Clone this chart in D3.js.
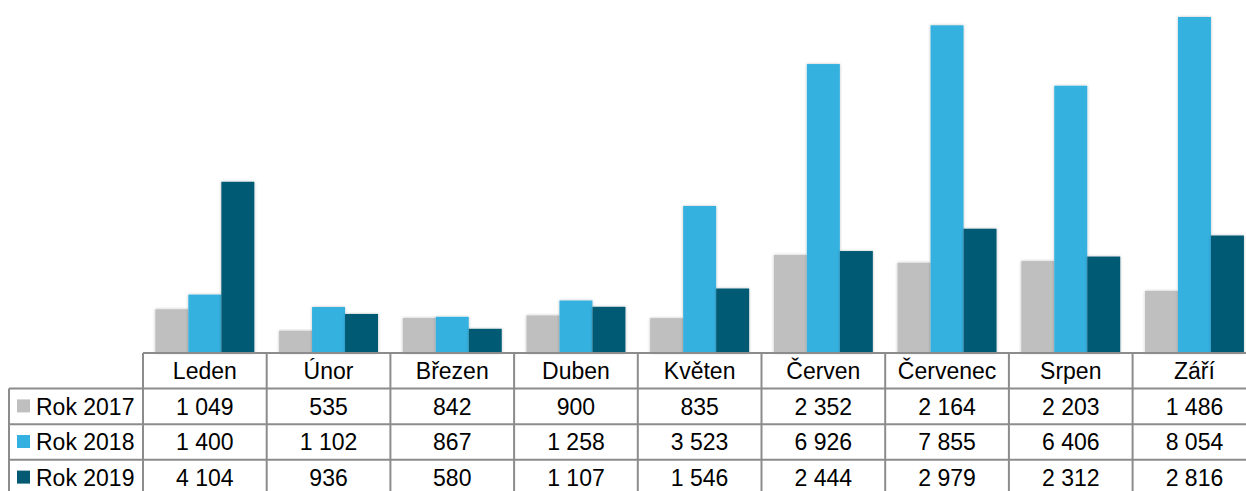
<!DOCTYPE html>
<html>
<head>
<meta charset="utf-8">
<script src="https://cdn.jsdelivr.net/npm/d3@7"></script>
<style>
  body { margin: 0; background: #fff; }
  svg text { font-family: "Liberation Sans", Arial, sans-serif; fill: #000; }
</style>
</head>
<body>
<div id="chart"></div>
<script>
var months = ["Leden", "Únor", "Březen", "Duben", "Květen", "Červen", "Červenec", "Srpen", "Září"],
	seriesNames = ["Rok 2017", "Rok 2018", "Rok 2019"],
	colors = ["#bfbfbf", "#34b1e0", "#045a73"],
	rok2017 = [1049, 535, 842, 900, 835, 2352, 2164, 2203, 1486],
	rok2018 = [1400, 1102, 867, 1258, 3523, 6926, 7855, 6406, 8054],
	rok2019 = [4104, 936, 580, 1107, 1546, 2444, 2979, 2312, 2816];

var values = [rok2017, rok2018, rok2019];
var fmt = function(v) { return d3.format(",")(v).replace(/,/g, " "); };

var W = 1246, H = 491,
	tableLeft = 143, colW = 123.7,
	legendLeft = 9,
	baseY = 353, rowH = 35.6,
	fontSize = 23,
	lineCol = "#8c8c8c";

var svg = d3.select("#chart").append("svg")
	.attr("width", W)
	.attr("height", H);

var defs = svg.append("defs");
var shadow = defs.append("filter").attr("id", "shadow")
	.attr("x", "-20%").attr("y", "-5%").attr("width", "140%").attr("height", "110%");
shadow.append("feDropShadow")
	.attr("dx", 0).attr("dy", 0)
	.attr("stdDeviation", 1.5)
	.attr("flood-color", "#000")
	.attr("flood-opacity", 0.25);

var x0 = d3.scaleBand()
	.domain(months)
	.range([tableLeft, tableLeft + colW * months.length])
	.paddingInner(0.2)
	.paddingOuter(0.1);

var x1 = d3.scaleBand()
	.domain(d3.range(seriesNames.length))
	.range([0, x0.bandwidth()]);

var y = d3.scaleLinear()
	.domain([0, 8054])
	.range([baseY, 17]);

// bars
var groups = svg.append("g").selectAll("g")
	.data(months)
	.join("g")
	.attr("transform", function(d) { return "translate(" + x0(d) + ",0)"; });

groups.selectAll("rect")
	.data(function(m, i) { return values.map(function(s, k) { return {k: k, v: s[i]}; }); })
	.join("rect")
	.attr("x", function(d) { return x1(d.k); })
	.attr("y", function(d) { return y(d.v); })
	.attr("width", x1.bandwidth())
	.attr("height", function(d) { return baseY - y(d.v); })
	.attr("fill", function(d) { return colors[d.k]; })
	.attr("filter", "url(#shadow)");

// table
var table = svg.append("g")
	.attr("stroke", lineCol)
	.attr("stroke-width", 2)
	.attr("fill", "none");

var colX = d3.range(months.length + 1).map(function(i) { return tableLeft + i * colW; });
var tableRight = colX[colX.length - 1];

// baseline / header top
table.append("line")
	.attr("x1", tableLeft).attr("x2", tableRight)
	.attr("y1", baseY).attr("y2", baseY);

// horizontal row lines
d3.range(1, 4).forEach(function(r) {
	table.append("line")
		.attr("x1", legendLeft).attr("x2", tableRight)
		.attr("y1", baseY + r * rowH).attr("y2", baseY + r * rowH);
});

// vertical lines
colX.forEach(function(cx) {
	table.append("line")
		.attr("x1", cx).attr("x2", cx)
		.attr("y1", baseY).attr("y2", H + 5);
});
table.append("line")
	.attr("x1", legendLeft).attr("x2", legendLeft)
	.attr("y1", baseY + rowH).attr("y2", H + 5);

// header labels
svg.append("g").selectAll("text")
	.data(months)
	.join("text")
	.attr("x", function(d) { return x0(d) + x0.bandwidth() / 2; })
	.attr("y", baseY + rowH / 2)
	.attr("dy", "0.36em")
	.attr("text-anchor", "middle")
	.attr("font-size", fontSize)
	.text(function(d) { return d; });

// data rows
seriesNames.forEach(function(name, k) {
	var cy = baseY + (k + 1.5) * rowH;
	var row = svg.append("g");
	row.append("rect")
		.attr("x", 17).attr("y", cy - 7)
		.attr("width", 13).attr("height", 13)
		.attr("fill", colors[k]);
	row.append("text")
		.attr("x", 36).attr("y", cy)
		.attr("dy", "0.36em")
		.attr("font-size", fontSize)
		.text(name);
	row.selectAll("text.val")
		.data(values[k])
		.join("text")
		.attr("class", "val")
		.attr("x", function(d, i) { return x0(months[i]) + x0.bandwidth() / 2; })
		.attr("y", cy)
		.attr("dy", "0.36em")
		.attr("text-anchor", "middle")
		.attr("font-size", fontSize)
		.text(function(d) { return fmt(d); });
});
</script>
</body>
</html>
